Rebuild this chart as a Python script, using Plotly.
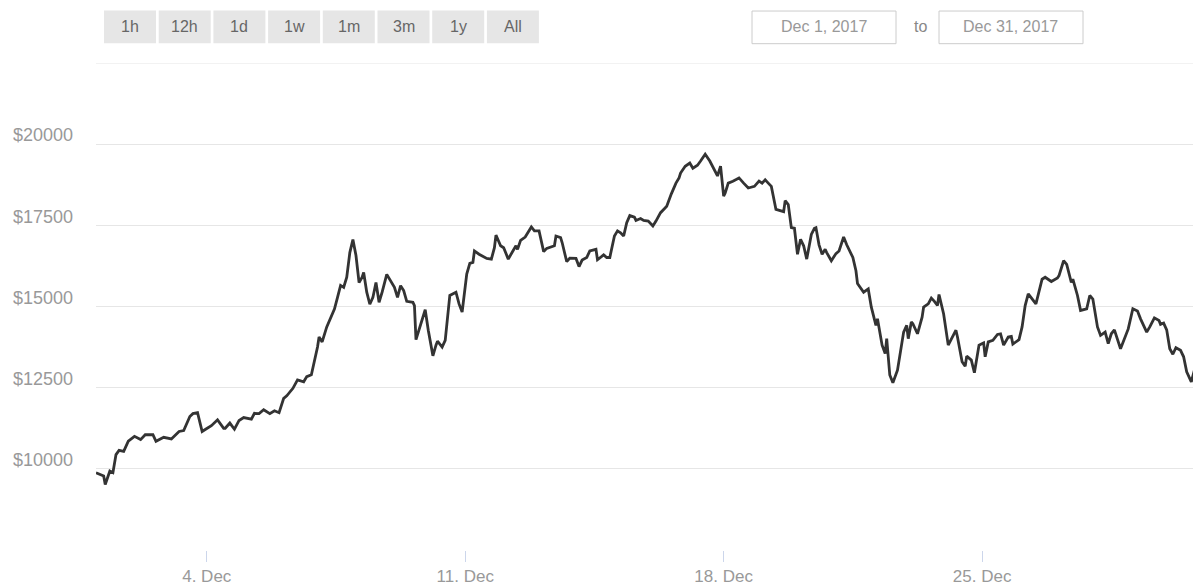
import plotly.graph_objects as go
import pandas as pd

# ---------------- data ----------------
START = "2017-12-01"
hours = [0, 5, 6, 9, 11, 13, 15, 18, 21, 25, 29, 32, 37, 39, 44, 49, 54, 57, 61, 63,
         66, 69, 71, 75, 79, 83, 84, 87, 90, 93, 96, 101, 103, 106, 109, 113, 116, 119, 122, 124,
         128, 131, 135, 137, 140, 142, 144, 145, 147, 150, 153, 155, 157, 159, 161, 163, 165, 167, 169, 171,
         173, 174, 176, 178, 180, 182, 184, 186, 189, 192, 194, 196, 198, 200, 202, 206, 207, 208, 210, 212,
         214, 216, 219, 221, 222, 225, 227, 230, 234, 236, 238, 241, 243, 245, 246, 249, 251, 254, 257, 259,
         260, 263, 265, 268, 271, 273, 274, 276, 279, 283, 285, 288, 291, 293, 298, 299, 302, 303, 306, 308,
         312, 314, 316, 319, 321, 325, 326, 328, 330, 332, 334, 337, 339, 341, 343, 345, 347, 350, 351, 354,
         356, 359, 362, 364, 367, 369, 371, 374, 377, 379, 380, 383, 386, 388, 391, 393, 396, 399, 402, 404,
         406, 408, 409, 411, 414, 416, 418, 421, 424, 428, 431, 433, 435, 437, 439, 442, 445, 447, 448, 450,
         452, 454, 456, 458, 460, 462, 465, 467, 468, 470, 472, 474, 475, 478, 481, 483, 486, 488, 492, 494,
         495, 499, 502, 504, 507, 508, 511, 513, 514, 516, 518, 521, 525, 527, 528, 530, 531, 534, 537, 538,
         541, 543, 545, 547, 548, 551, 554, 556, 559, 560, 563, 565, 566, 569, 571, 574, 577, 578, 580, 583,
         586, 588, 590, 593, 595, 596, 600, 602, 604, 606, 611, 615, 617, 621, 625, 626, 629, 631, 634, 635,
         638, 640, 644, 646, 648, 651, 653, 656, 658, 660, 662, 666, 669, 671, 674, 677, 679, 683, 685, 688,
         691, 692, 694, 696, 698, 700, 702, 705, 707, 709, 712, 714, 717, 718]
prices = [9880, 9780, 9520, 9930, 9880, 10440, 10570, 10540, 10850, 11000, 10900, 11050, 11050, 10850, 10970, 10920, 11150, 11180, 11610, 11700,
          11730, 11150, 11210, 11330, 11510, 11250, 11250, 11410, 11220, 11490, 11580, 11530, 11710, 11700, 11820, 11700, 11790, 11730, 12170, 12250,
          12480, 12740, 12680, 12840, 12900, 13300, 13750, 14060, 13910, 14370, 14670, 14920, 15280, 15650, 15590, 15900, 16660, 17060, 16570, 15740,
          15900, 16050, 15440, 15070, 15280, 15740, 15130, 15440, 15990, 15740, 15590, 15280, 15640, 15490, 15160, 15130, 15030, 13980, 14310, 14570,
          14900, 14270, 13480, 13810, 13930, 13750, 13960, 15340, 15440, 15080, 14830, 16000, 16330, 16360, 16710, 16610, 16560, 16480, 16460, 16810,
          17200, 16870, 16810, 16460, 16710, 16870, 16760, 17040, 17140, 17450, 17330, 17330, 16690, 16790, 16870, 17170, 17120, 16970, 16380, 16490,
          16480, 16230, 16430, 16510, 16710, 16760, 16440, 16510, 16590, 16510, 16510, 17170, 17330, 17270, 17170, 17580, 17800, 17750, 17650, 17710,
          17650, 17630, 17480, 17630, 17890, 17990, 18090, 18470, 18800, 18960, 19110, 19320, 19420, 19260, 19350, 19480, 19690, 19480, 19200, 19020,
          19320, 18400, 18500, 18800, 18860, 18900, 18960, 18800, 18650, 18700, 18860, 18800, 18900, 18800, 18700, 17990, 17960, 17920, 18260, 18140,
          17430, 17410, 16610, 17070, 16870, 16460, 17220, 17410, 17430, 16900, 16610, 16760, 16660, 16410, 16630, 16710, 17140, 16900, 16510, 16100,
          15710, 15440, 15540, 14980, 14420, 14620, 13810, 13550, 14010, 12890, 12650, 13040, 14210, 14420, 14010, 14520, 14470, 14160, 14670, 14980,
          15080, 15260, 15160, 15030, 15370, 14770, 13810, 14010, 14270, 14060, 13300, 13160, 13470, 13350, 12960, 13810, 13880, 13450, 13910, 13960,
          14140, 14160, 13810, 14060, 14080, 13840, 13980, 14370, 15030, 15390, 15080, 15840, 15900, 15770, 15880, 15950, 16410, 16300, 15740, 15840,
          15340, 14880, 14930, 15340, 15230, 14370, 14110, 14210, 13860, 14160, 14280, 13700, 14060, 14310, 14930, 14860, 14620, 14210, 14370, 14650,
          14570, 14450, 14490, 14280, 13700, 13530, 13730, 13650, 13450, 12990, 12680, 13040, 12990, 12890]

y_ticks = [10000, 12500, 15000, 17500, 20000]
y_tick_labels = ["$10000", "$12500", "$15000", "$17500", "$20000"]
y_top_grid = 22500
x_tick_dates = ["2017-12-04", "2017-12-11", "2017-12-18", "2017-12-25"]
x_tick_labels = ["4. Dec", "11. Dec", "18. Dec", "25. Dec"]
buttons = ["1h", "12h", "1d", "1w", "1m", "3m", "1y", "All"]
date_from = "Dec 1, 2017"
date_to = "Dec 31, 2017"
range_end_hours = 718.3

times = pd.Timestamp(START) + pd.to_timedelta(hours, unit="h")

# ---------------- layout geometry ----------------
# the page body has an 8px margin, so the figure is 8px smaller on each axis
BODY = 8
W, H = 1201 - BODY, 586 - BODY
PL, PR, PT, PB = 96, 1201, 63, 555      # plot area in window pixels
L, R, T, B = PL - BODY, (1201 - PR), PT - BODY, 586 - PB
FONT = "Liberation Sans, Arial, sans-serif"


def px(x):
    return (x - PL) / (PR - PL)


def py(y):
    return (PB - y) / (PB - PT)


fig = go.Figure()
fig.add_trace(go.Scatter(
    x=times, y=prices, mode="lines",
    line=dict(color="#333333", width=2.8),
    hoverinfo="skip", showlegend=False,
))

shapes = []
annotations = []

# top grid line
shapes.append(dict(type="line", xref="paper", yref="y", x0=0, x1=1,
                   y0=y_top_grid, y1=y_top_grid, line=dict(color="#e6e6e6", width=1), layer="below"))

# range selector buttons
for i, lab in enumerate(buttons):
    x0 = 104 + i * 54.7
    x1 = x0 + 52
    shapes.append(dict(type="rect", xref="paper", yref="paper",
                       x0=px(x0), x1=px(x1), y0=py(43), y1=py(10),
                       fillcolor="#e6e6e6", line=dict(width=0), layer="above"))
    annotations.append(dict(text=lab, xref="paper", yref="paper",
                            x=px((x0 + x1) / 2), y=py(26.5), xanchor="center", yanchor="middle",
                            showarrow=False, font=dict(family=FONT, size=16, color="#666666")))

# date inputs
for (x0, x1, txt) in [(752, 896, date_from), (939, 1083, date_to)]:
    shapes.append(dict(type="rect", xref="paper", yref="paper",
                       x0=px(x0), x1=px(x1), y0=py(43.5), y1=py(10.5),
                       fillcolor="white", line=dict(color="#cccccc", width=1), layer="above"))
    annotations.append(dict(text=txt, xref="paper", yref="paper",
                            x=px((x0 + x1) / 2), y=py(26.5), xanchor="center", yanchor="middle",
                            showarrow=False, font=dict(family=FONT, size=16, color="#999999")))
annotations.append(dict(text="to", xref="paper", yref="paper",
                        x=px(920), y=py(26.5), xanchor="center", yanchor="middle",
                        showarrow=False, font=dict(family=FONT, size=16, color="#888888")))

fig.update_layout(
    width=W, height=H,
    margin=dict(l=L, r=R, t=T, b=B, pad=0),
    paper_bgcolor="white", plot_bgcolor="white",
    font=dict(family=FONT, size=17, color="#999999"),
    shapes=shapes, annotations=annotations,
    hovermode=False,
    xaxis=dict(
        type="date",
        range=[pd.Timestamp(START), pd.Timestamp(START) + pd.Timedelta(hours=range_end_hours)],
        tickvals=pd.to_datetime(x_tick_dates), ticktext=x_tick_labels,
        ticks="outside", ticklen=11, tickwidth=1, tickcolor="#ccd6eb",
        showgrid=False, showline=False, zeroline=False,
        tickfont=dict(family=FONT, size=17, color="#999999"),
        fixedrange=True,
    ),
    yaxis=dict(
        range=[7500, 22500],
        tickvals=y_ticks, ticktext=y_tick_labels,
        showgrid=True, gridcolor="#e6e6e6", gridwidth=1,
        zeroline=False, showline=False, ticks="",
        ticklabelstandoff=22, ticklabelshift=-9,
        tickfont=dict(family=FONT, size=18, color="#999999"),
        fixedrange=True,
    ),
)

fig.write_html("out.html", config={"displayModeBar": False})
